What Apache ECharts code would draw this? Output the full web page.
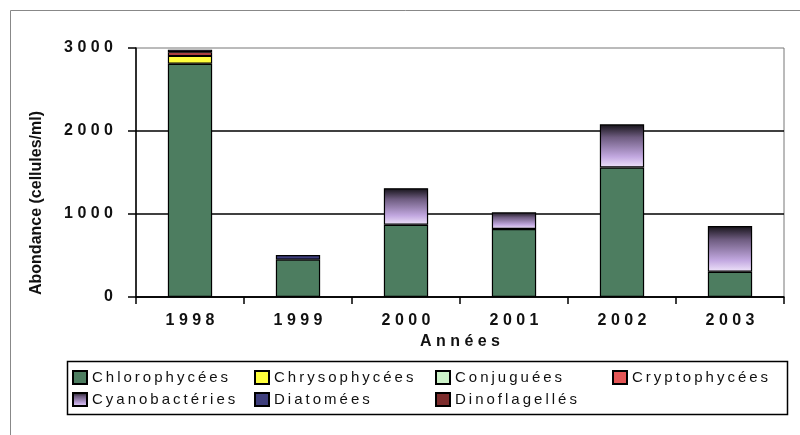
<!DOCTYPE html>
<html>
<head>
<meta charset="utf-8">
<script src="https://cdn.jsdelivr.net/npm/echarts@6/dist/echarts.min.js"></script>
<style>html,body{margin:0;padding:0;background:#fff;}#c{width:800px;height:435px;}</style>
</head>
<body>
<div id="c"></div>
<script>
var years = ['1998', '1999', '2000', '2001', '2002', '2003'];
var yTicks = [0, 1000, 2000, 3000];
var chlorophycees = [2810, 450, 870, 820, 1560, 305];
var chrysophycees = [95, 0, 0, 0, 0, 0];
var conjuguees = [0, 0, 0, 0, 0, 0];
var cryptophycees = [45, 0, 0, 0, 0, 0];
var cyanobacteries = [0, 0, 440, 200, 520, 550];
var diatomees = [30, 55, 0, 0, 0, 0];
var dinoflagelles = [0, 0, 0, 0, 0, 0];
var seriesNames = ['Chlorophycées', 'Chrysophycées', 'Conjuguées', 'Cryptophycées', 'Cyanobactéries', 'Diatomées', 'Dinoflagellés'];
var yTitle = 'Abondance (cellules/ml)';
var xTitle = 'Années';

function spaced(s, sep) { return String(s).split('').join(sep); }

var chart = echarts.init(document.getElementById('c'));
var cyanoGrad = new echarts.graphic.LinearGradient(0, 0, 0, 1, [
  {offset: 0, color: '#151218'},
  {offset: 0.3, color: '#6e5c80'},
  {offset: 0.75, color: '#c2a8e0'},
  {offset: 1, color: '#efe4fa'}
]);
var colors = ['#4d7d60', '#ffff3c', '#ccf2c8', '#e45656', cyanoGrad, '#3e3e7c', '#7c2c2c'];
var dataSets = [chlorophycees, chrysophycees, conjuguees, cryptophycees, cyanobacteries, diatomees, dinoflagelles];

var series = seriesNames.map(function (n, i) {
  return {
    name: n, type: 'bar', stack: 'tot', barWidth: '41%',
    data: dataSets[i].map(function (v) { return v === 0 ? '-' : v; }),
    itemStyle: {color: colors[i], borderColor: '#000', borderWidth: 1.2}
  };
});

var legendFont = {fontFamily: 'Liberation Sans', fontSize: 15, color: '#111'};
function mkLegend(left, names) {
  return {
    orient: 'vertical', left: left, top: 370, padding: 0, itemGap: 7,
    itemWidth: 14, itemHeight: 13, icon: 'rect', data: names,
    selectedMode: false,
    textStyle: legendFont,
    formatter: function (n) { return spaced(n, '\u2009'); }
  };
}

chart.setOption({
  animation: false,
  backgroundColor: '#fff',
  grid: {left: 136, right: 16, top: 48, bottom: 138, show: true, borderColor: '#777', borderWidth: 1, backgroundColor: '#fff'},
  legend: [
    mkLegend(72, ['Chlorophycées', 'Cyanobactéries']),
    mkLegend(254, ['Chrysophycées', 'Diatomées']),
    mkLegend(435, ['Conjuguées', 'Dinoflagellés']),
    mkLegend(612, ['Cryptophycées'])
  ],
  xAxis: {
    type: 'category', data: years,
    name: spaced(xTitle, ' '), nameLocation: 'middle', nameGap: 34,
    nameTextStyle: {fontFamily: 'Liberation Sans', fontSize: 16, fontWeight: 'bold', color: '#111'},
    axisLine: {lineStyle: {color: '#000', width: 1.5}},
    axisTick: {show: true, length: 7, lineStyle: {color: '#000', width: 1.5}},
    axisLabel: {margin: 16, fontFamily: 'Liberation Sans', fontSize: 16, fontWeight: 'bold', color: '#111',
      formatter: function (v) { return spaced(v, ' '); }}
  },
  yAxis: {
    type: 'value', min: yTicks[0], max: yTicks[yTicks.length - 1], interval: yTicks[1] - yTicks[0],
    axisLine: {show: true, lineStyle: {color: '#000', width: 1.5}},
    axisTick: {show: true, length: 8, lineStyle: {color: '#000', width: 1.5}},
    splitLine: {show: true, showMaxLine: false, lineStyle: {color: '#000', width: 1.5}},
    axisLabel: {margin: 23, fontFamily: 'Liberation Sans', fontSize: 16, fontWeight: 'bold', color: '#111',
      formatter: function (v) { return spaced(v, ' '); }}
  },
  graphic: [
    {type: 'rect', left: 10, top: 10, z: -10, shape: {width: 800, height: 440}, style: {fill: '#fff', stroke: '#888', lineWidth: 1}},
    {type: 'rect', left: 65, top: 359, shape: {width: 720, height: 53}, style: {fill: 'none', stroke: '#000', lineWidth: 1.5}},
    {type: 'text', x: 37, y: 203, rotation: Math.PI / 2,
      style: {text: yTitle, fontFamily: 'Liberation Sans', fontSize: 16, fontWeight: 'bold', fill: '#111', align: 'center', verticalAlign: 'middle'}}
  ],
  series: series
});
</script>
</body>
</html>
